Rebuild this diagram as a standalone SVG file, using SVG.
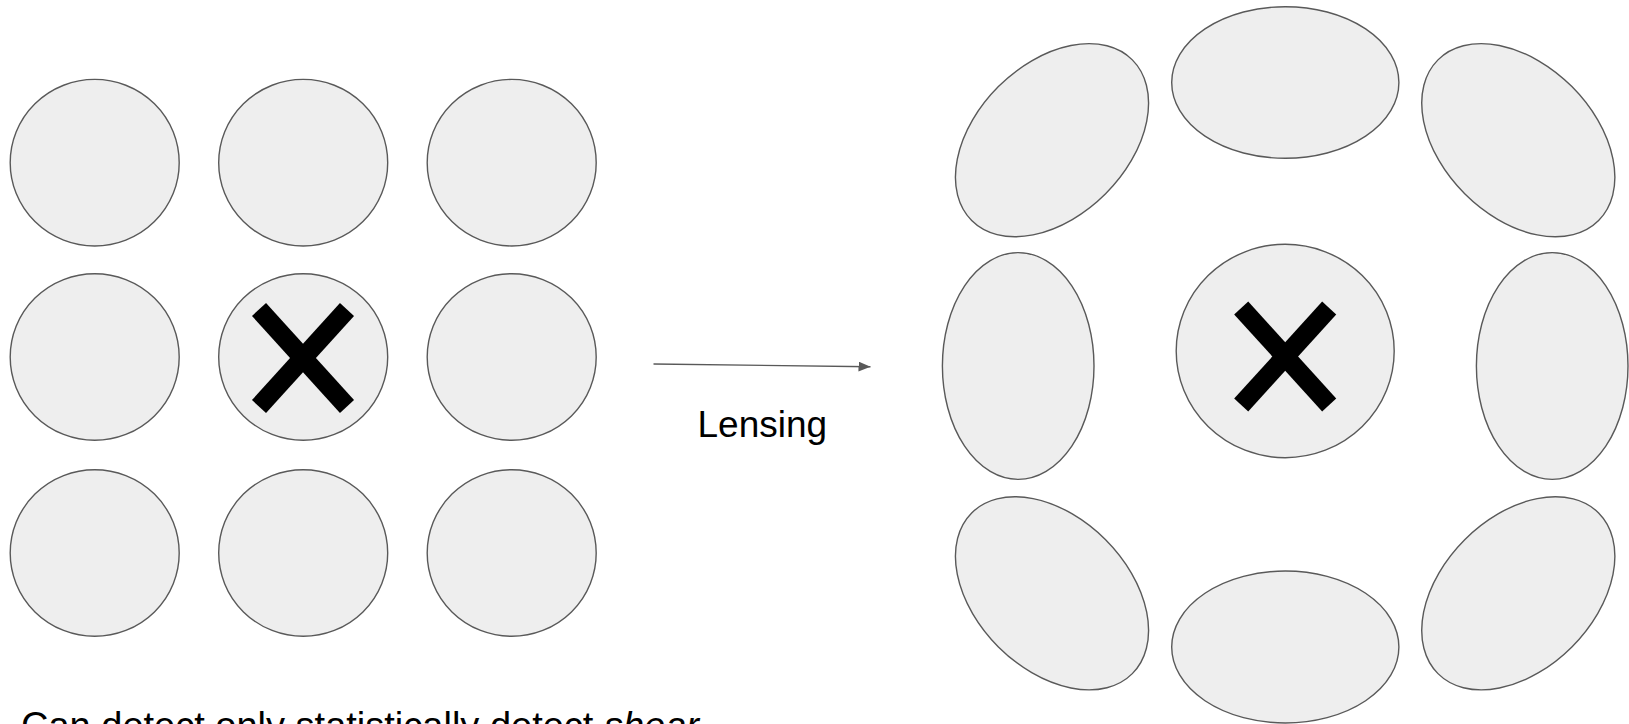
<svg xmlns="http://www.w3.org/2000/svg" width="1629" height="724" viewBox="0 0 1629 724">
  <style>
    .blob { fill: #eeeeee; stroke: #595959; stroke-width: 1.4; }
    .cross { stroke: #000000; stroke-width: 19; stroke-linecap: butt; fill: none; }
    .label { font-family: "Liberation Sans", Arial, sans-serif; fill: #000000; }
    .conn { stroke: #595959; stroke-width: 1.4; fill: none; }
  </style>
  <defs>
    <marker id="arrowhead" viewBox="0 0 12 10" refX="12" refY="5" markerWidth="12" markerHeight="10" markerUnits="userSpaceOnUse" orient="auto">
      <path d="M0,0 L12,5 L0,10 Z" fill="#595959"/>
    </marker>
    <g id="xmark">
      <line class="cross" x1="-44" y1="-48.5" x2="44" y2="48.5"/>
      <line class="cross" x1="44" y1="-48.5" x2="-44" y2="48.5"/>
    </g>
  </defs>

  <!-- unlensed sources: regular grid of round galaxies -->
  <g id="src-r1c1"><ellipse class="blob" cx="94.7" cy="162.7" rx="84.5" ry="83.3"/></g>
  <g id="src-r1c2"><ellipse class="blob" cx="303.2" cy="162.7" rx="84.5" ry="83.3"/></g>
  <g id="src-r1c3"><ellipse class="blob" cx="511.7" cy="162.7" rx="84.5" ry="83.3"/></g>
  <g id="src-r2c1"><ellipse class="blob" cx="94.7" cy="357" rx="84.5" ry="83.3"/></g>
  <g id="src-r2c2">
    <ellipse class="blob" cx="303.2" cy="357" rx="84.5" ry="83.3"/>
    <use href="#xmark" x="303" y="358"/>
  </g>
  <g id="src-r2c3"><ellipse class="blob" cx="511.7" cy="357" rx="84.5" ry="83.3"/></g>
  <g id="src-r3c1"><ellipse class="blob" cx="94.7" cy="553" rx="84.5" ry="83.3"/></g>
  <g id="src-r3c2"><ellipse class="blob" cx="303.2" cy="553" rx="84.5" ry="83.3"/></g>
  <g id="src-r3c3"><ellipse class="blob" cx="511.7" cy="553" rx="84.5" ry="83.3"/></g>

  <!-- lensed images: tangentially stretched around the lens -->
  <g id="lens-center">
    <ellipse class="blob" cx="1285.2" cy="351" rx="109" ry="106.7"/>
    <use href="#xmark" x="1285.2" y="356.5"/>
  </g>
  <g id="img-top"><ellipse class="blob" cx="1285.3" cy="82.5" rx="113.6" ry="75.8"/></g>
  <g id="img-bottom"><ellipse class="blob" cx="1285.3" cy="647" rx="113.6" ry="76"/></g>
  <g id="img-left"><ellipse class="blob" cx="1018.2" cy="366" rx="75.8" ry="113.4"/></g>
  <g id="img-right"><ellipse class="blob" cx="1552.2" cy="366" rx="75.8" ry="113.4"/></g>
  <g id="img-top-left"><ellipse class="blob" cx="0" cy="0" rx="113.6" ry="75.8" transform="translate(1052 140.2) rotate(-45)"/></g>
  <g id="img-top-right"><ellipse class="blob" cx="0" cy="0" rx="113.6" ry="75.8" transform="translate(1518.3 140.2) rotate(45)"/></g>
  <g id="img-bottom-left"><ellipse class="blob" cx="0" cy="0" rx="113.6" ry="75.8" transform="translate(1052 593.3) rotate(45)"/></g>
  <g id="img-bottom-right"><ellipse class="blob" cx="0" cy="0" rx="113.6" ry="75.8" transform="translate(1518.3 593.3) rotate(-45)"/></g>

  <!-- connector -->
  <g id="connectors">
    <line class="conn" x1="653.5" y1="364" x2="870.5" y2="366.7" marker-end="url(#arrowhead)"/>
  </g>

  <g id="label-lensing">
    <text class="label" x="697.5" y="436.7" font-size="37">Lensing</text>
  </g>
  <g id="caption">
    <text class="label" x="21" y="739" font-size="38">Can detect only statistically detect <tspan font-style="italic">shear</tspan></text>
  </g>
</svg>
